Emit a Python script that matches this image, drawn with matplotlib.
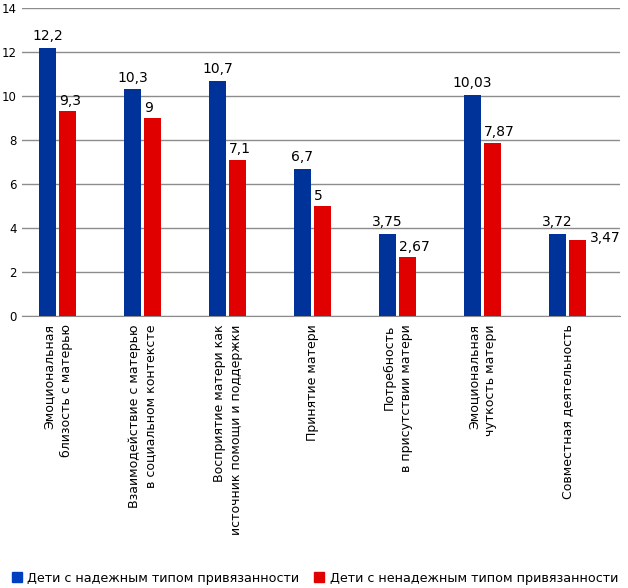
import matplotlib
matplotlib.use("Agg")
import matplotlib.pyplot as plt
import numpy as np

categories = [
    "Эмоциональная\nблизость с матерью",
    "Взаимодействие с матерью\nв социальном контексте",
    "Восприятие матери как\nисточник помощи и поддержки",
    "Принятие матери",
    "Потребность\nв присутствии матери",
    "Эмоциональная\nчуткость матери",
    "Совместная деятельность",
]
secure = [12.2, 10.3, 10.7, 6.7, 3.75, 10.03, 3.72]
insecure = [9.3, 9.0, 7.1, 5.0, 2.67, 7.87, 3.47]
secure_labels = ["12,2", "10,3", "10,7", "6,7", "3,75", "10,03", "3,72"]
insecure_labels = ["9,3", "9", "7,1", "5", "2,67", "7,87", "3,47"]
series_names = ["Дети с надежным типом привязанности", "Дети с ненадежным типом привязанности"]
yticks = [0, 2, 4, 6, 8, 10, 12, 14]

plt.rcParams['font.family'] = ['DejaVu Sans']
BLUE = "#003399"
RED = "#e00000"

fig = plt.figure(figsize=(6.28, 5.88), dpi=100)
ax = fig.add_axes([22/628, (588-316)/588, 598/628, 308/588])

x = np.arange(len(categories))
w = 0.2
off = 0.118
b1 = ax.bar(x - off, secure, w, color=BLUE, zorder=3)
b2 = ax.bar(x + off, insecure, w, color=RED, zorder=3)

for i, (r, lab) in enumerate(zip(b1, secure_labels)):
    ax.annotate(lab, (r.get_x() + r.get_width()/2, r.get_height()), xytext=(0, 3.5),
                textcoords="offset points", ha="center", va="bottom", fontsize=10)
for i, (r, lab) in enumerate(zip(b2, insecure_labels)):
    if i == len(categories) - 1:
        ax.annotate(lab, (r.get_x() + r.get_width(), r.get_height()), xytext=(3, 1),
                    textcoords="offset points", ha="left", va="center", fontsize=10)
    else:
        ax.annotate(lab, (r.get_x(), r.get_height()), xytext=(0, 2.5),
                    textcoords="offset points", ha="left", va="bottom", fontsize=10)

ax.set_ylim(0, 14)
ax.set_xlim(-0.418, 6.618)
ax.set_yticks(yticks)
ax.set_yticklabels([str(t) for t in yticks], fontsize=8.5)
ax.yaxis.grid(True, color="#8c8c8c", linewidth=1, zorder=0)
ax.set_axisbelow(True)
for s in ["left", "right", "top"]:
    ax.spines[s].set_visible(False)
ax.spines["bottom"].set_color("#8c8c8c")
ax.tick_params(axis="y", length=0, pad=4)
ax.tick_params(axis="x", length=0, pad=6)
ax.set_xticks(x)
ax.set_xticklabels(categories, rotation=90, fontsize=9, va="top", ha="center",
                   multialignment="right", linespacing=1.4)

h1 = plt.Line2D([], [], marker="s", linestyle="none", color="#0040c0", markersize=7.5)
h2 = plt.Line2D([], [], marker="s", linestyle="none", color=RED, markersize=7.5)
fig.legend([h1, h2], series_names, loc="lower center", bbox_to_anchor=(0.5, -0.014),
           ncol=2, frameon=False, fontsize=9.2, handletextpad=0.35, columnspacing=1.0,
           handlelength=1.0)

fig.savefig("out.png", dpi=100)
